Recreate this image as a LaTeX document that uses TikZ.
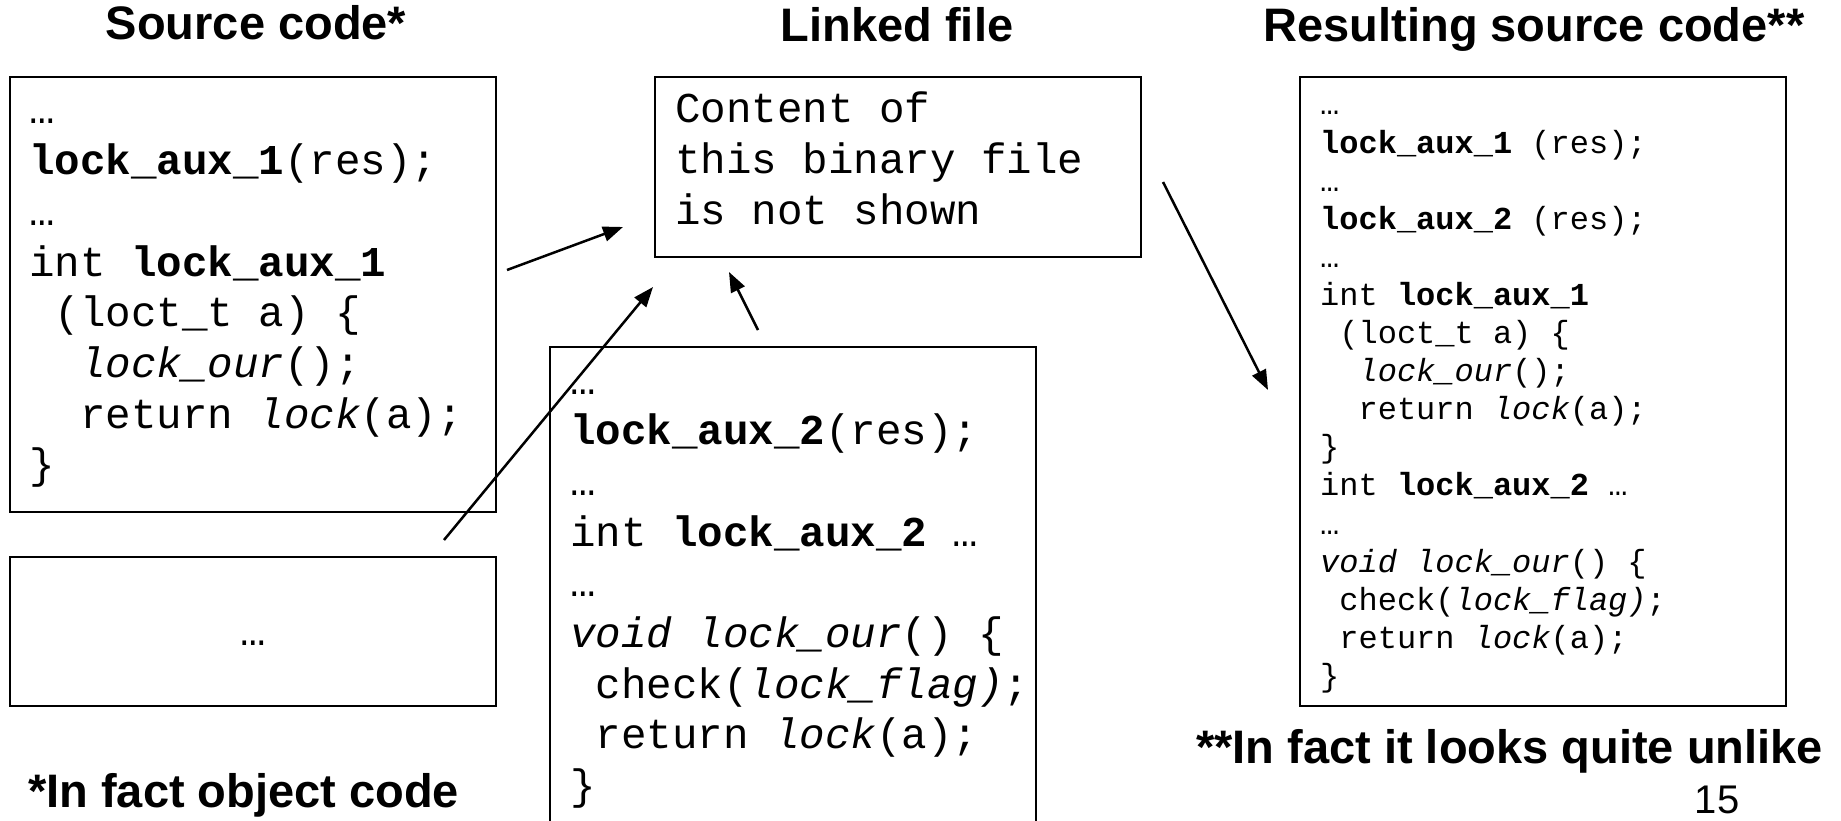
\documentclass[tikz,border=0pt]{standalone}
\usepackage{fontspec}
\setmainfont{Liberation Sans}
\newfontfamily\codefont{Liberation Mono}
\usetikzlibrary{arrows.meta}
\newcommand\cb[1]{\textbf{#1}}
\newcommand\ci[1]{\textit{#1}}
\begin{document}
\begin{tikzpicture}[x=1pt,y=-1pt,
  box/.style={draw, line width=2pt, anchor=north west, inner sep=0pt},
  arr/.style={-{Triangle[length=20pt,width=15pt]}, line width=2.5pt},
  title/.style={font=\fontsize{47}{56}\selectfont\bfseries, inner sep=0pt},
  codeL/.style={font=\codefont\fontsize{42.5}{50.7}\selectfont, anchor=base west, inner sep=0pt},
  codeS/.style={font=\codefont\fontsize{32}{38.1}\selectfont, anchor=base west, inner sep=0pt}]
\useasboundingbox (0,0) rectangle (1841,821);
\clip (0,0) rectangle (1841,821);

% titles
\node[title, anchor=base] (t1) at (256,40) {Source code*};
\node[title, anchor=base] (t2) at (897,42) {Linked file};
\node[title, anchor=base] (t3) at (1534,42) {Resulting source code**};
\node[title, anchor=base west] (n1) at (28,807) {*In fact object code};
\node[title, anchor=base west] (n2) at (1196,763) {**In fact it looks quite unlike};
\node[font=\fontsize{40}{48}\selectfont, anchor=base, inner sep=0pt] (pg) at (1717,813) {15};

% boxes
\node[box, minimum width=486pt, minimum height=435pt] (src1) at (9,76) {};
\node[box, minimum width=486pt, minimum height=149pt] (src2) at (9,556) {};
\node[box, minimum width=486pt, minimum height=180pt] (lnk) at (654,76) {};
\node[box, minimum width=486pt, minimum height=520pt] (src3) at (549,346) {};
\node[box, minimum width=486pt, minimum height=629pt] (res) at (1299,76) {};

% box texts
\node[codeL] (c1) at (29,124) {\vtop{%
  \hbox{…}
  \hbox{\cb{lock\_aux\_1}(res);}
  \hbox{…}
  \hbox{int \cb{lock\_aux\_1}}
  \hbox{\ (loct\_t a) \{}
  \hbox{\ \ \ci{lock\_our}();}
  \hbox{\ \ return \ci{lock}(a);}
  \hbox{\}}}};
\node[codeL, anchor=base] (c2) at (253,645) {…};
\node[codeL] (c3) at (675,123) {\vtop{%
  \hbox{Content of}
  \hbox{this binary file}
  \hbox{is not shown}}};
\node[codeL] (c4) at (570,394) {\vtop{%
  \hbox{…}
  \hbox{\cb{lock\_aux\_2}(res);}
  \hbox{…}
  \hbox{int \cb{lock\_aux\_2} …}
  \hbox{…}
  \hbox{\ci{void lock\_our}() \{}
  \hbox{\ check(\ci{lock\_flag)};}
  \hbox{\ return \ci{lock}(a);}
  \hbox{\}}}};
\node[codeS] (c5) at (1320,115) {\vtop{%
  \hbox{…}
  \hbox{\cb{lock\_aux\_1} (res);}
  \hbox{…}
  \hbox{\cb{lock\_aux\_2} (res);}
  \hbox{…}
  \hbox{int \cb{lock\_aux\_1}}
  \hbox{\ (loct\_t a) \{}
  \hbox{\ \ \ci{lock\_our}();}
  \hbox{\ \ return \ci{lock}(a);}
  \hbox{\}}
  \hbox{int \cb{lock\_aux\_2} …}
  \hbox{…}
  \hbox{\ci{void lock\_our}() \{}
  \hbox{\ check(\ci{lock\_flag)};}
  \hbox{\ return \ci{lock}(a);}
  \hbox{\}}}};

% arrows
\coordinate (a1s) at (507,270);
\coordinate (a1e) at (623,227);
\coordinate (a2s) at (444,540);
\coordinate (a2e) at (653,287);
\coordinate (a3s) at (758,330);
\coordinate (a3e) at (729,272);
\coordinate (a4s) at (1163,182);
\coordinate (a4e) at (1268,390);
\draw[arr] (a1s) -- (a1e);
\draw[arr] (a2s) -- (a2e);
\draw[arr] (a3s) -- (a3e);
\draw[arr] (a4s) -- (a4e);
\end{tikzpicture}
\end{document}
